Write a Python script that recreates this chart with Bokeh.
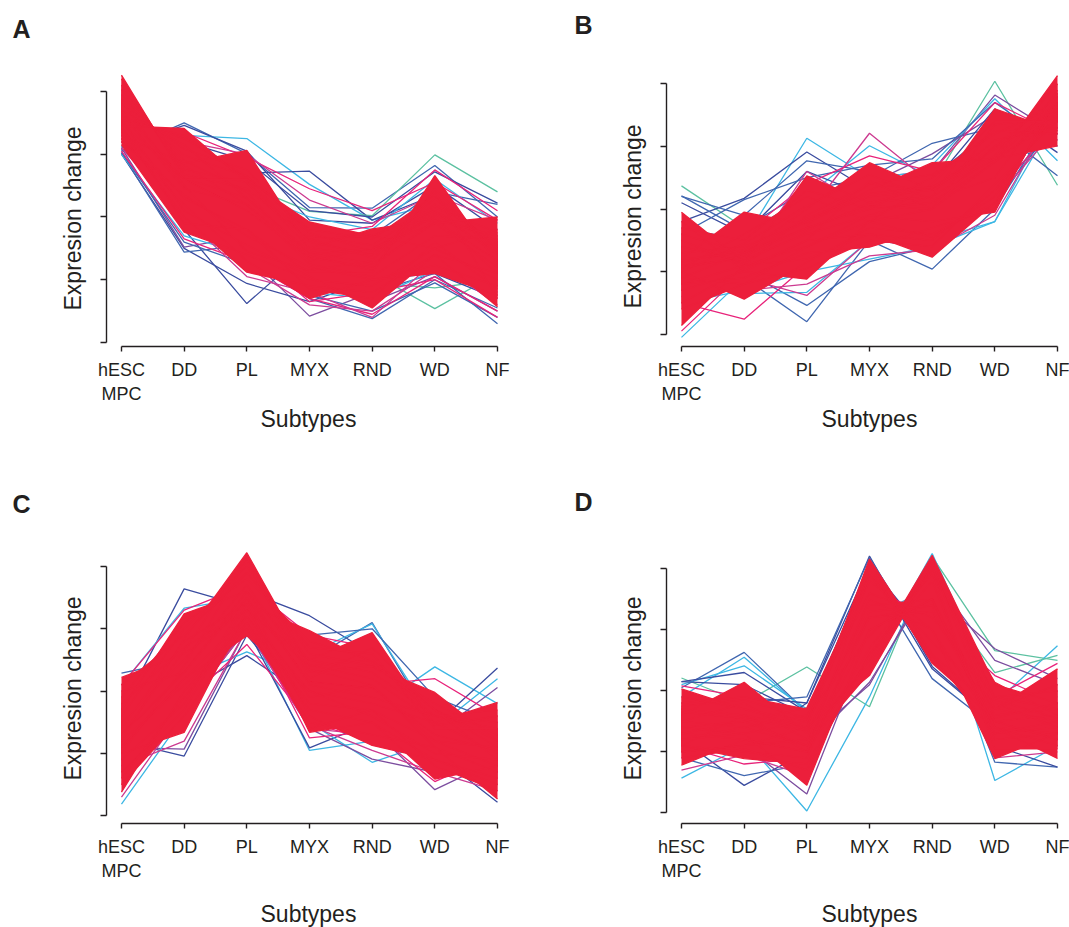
from bokeh.plotting import figure
from bokeh.models import FixedTicker, Range1d, Title, LinearAxis
from bokeh.layouts import column, row
from bokeh.embed import file_html
from bokeh.resources import INLINE

# ---------------- data ----------------
categories = ["hESC\nMPC", "DD", "PL", "MYX", "RND", "WD", "NF"]
xpos = [0, 1, 2, 3, 4, 5, 6]

# ---- Panel A ----
A_center = [1.70, 0.60, 0.10, -0.65, -0.80, -0.05, -0.70]
A_red = [
    [2.26, 0.62, 0.30, -0.55, -0.75, -0.10, -0.80],
    [2.20, 0.68, 0.45, -0.35, -0.65, 0.05, -0.55],
    [2.10, 0.75, 0.55, -0.40, -0.60, 0.10, -0.60],
    [2.03, 0.82, 0.20, -0.75, -0.95, -0.30, -0.35],
    [1.95, 0.90, 0.40, -0.70, -0.50, 0.00, -0.90],
    [1.88, 0.98, 0.65, -0.25, -0.55, 0.15, -0.25],
    [1.80, 1.08, 0.75, -0.30, -0.45, 0.20, -0.40],
    [1.70, 1.15, 0.30, -0.60, -0.85, 0.45, -0.55],
    [1.60, 1.25, 0.65, -0.20, -0.35, 0.35, -0.50],
    [1.55, 1.30, 0.60, -0.35, -0.30, 0.10, -0.45],
    [1.45, 1.41, 0.55, -0.50, -0.19, -0.05, -0.30],
    [1.30, 0.85, 1.06, -0.50, -0.60, 0.30, -0.55],
    [1.50, 0.60, 0.60, -0.08, -0.30, -0.50, -0.20],
    [1.40, 0.30, -0.20, -0.90, -0.90, 0.66, -0.75],
    [1.65, 0.45, 0.20, -0.60, -0.50, -0.10, 0.00],
    [1.15, -0.24, -0.60, -1.00, -1.10, -0.50, -1.00],
    [1.35, 0.00, -0.88, -1.10, -1.20, -0.60, -0.90],
    [1.25, 0.20, -0.70, -1.30, -1.00, -0.77, -1.10],
    [1.55, 0.10, -0.45, -0.95, -1.45, -0.60, -1.43],
    [1.20, 0.35, -0.30, -0.80, -1.00, -0.90, -1.25],
    [1.45, -0.10, -0.20, -1.15, -1.30, -0.40, -1.15],
    [1.85, 0.50, -0.55, -0.85, -0.70, 0.40, -1.30],
]
A_edge = [
    [1.05, -0.35, -0.72, -1.30, -1.55, -0.95, -1.50],
    [1.20, 0.10, -0.80, -1.40, -1.50, -0.85, -1.25],
    [1.35, 1.35, 0.95, 0.45, 0.10, 0.55, -0.05],
    [1.30, 1.20, 1.00, 0.27, -0.10, 0.35, -0.05],
    [1.25, 0.90, 0.40, -0.30, -0.15, 0.75, 0.10],
    [1.10, 0.00, -0.95, -1.20, -1.60, -0.70, -1.40],
    [1.60, 0.40, -0.50, -1.35, -1.20, -1.00, -1.60],
]
A_edge_colors = ["pink", "magenta", "pink", "magenta", "pink", "magenta", "pink"]
A_out = [
    [1.06, 1.50, 1.01, 0.15, 0.14, 0.82, 0.00],
    [1.15, 1.30, 1.25, 0.52, -0.05, 0.20, -0.30],
    [1.10, 1.25, 0.70, 0.73, -0.05, 0.35, -0.45],
    [1.20, 0.90, 0.50, 0.09, 0.02, 0.99, 0.40],
    [1.30, 0.10, -0.50, -0.90, -0.90, -1.46, -0.90],
    [1.40, 0.30, -0.60, -1.10, -1.05, -1.13, -1.00],
    [1.30, 0.00, -0.60, -1.58, -1.20, -0.70, -1.10],
    [1.25, -0.20, -1.38, -0.50, -0.90, -0.60, -1.20],
    [1.00, -0.50, -1.06, -1.35, -1.00, -0.90, -1.30],
    [1.20, 0.20, -0.70, -1.30, -1.62, -1.00, -1.45],
    [1.02, -0.56, -0.45, -1.10, -1.20, -0.90, -1.70],
    [1.10, -0.48, -0.30, -0.90, -1.35, -0.95, -1.50],
    [1.12, 1.46, 1.05, -0.05, -0.10, 0.50, -0.20],
    [1.05, 1.20, 0.90, 0.10, 0.00, 0.72, 0.22],
    [1.00, -0.30, -0.60, -1.20, -1.30, -0.85, -1.25],
    [1.08, 0.40, 0.00, -0.40, -0.30, 0.40, 0.20],
    [1.12, 0.95, 0.40, 0.00, -0.20, 0.60, -0.10],
    [1.03, -0.40, -0.75, -1.25, -1.50, -1.05, -1.60],
]
A_out_colors = ["blue", "cyan", "dblue", "teal", "teal", "teal", "purple", "dblue", "dblue",
                "blue", "blue", "purple", "dblue", "dblue", "cyan", "blue", "cyan", "blue"]

# ---- Panel B ----
B_center = [-0.95, -0.75, -0.30, 0.05, 0.00, 0.75, 1.55]
B_red = [
    [-0.05, -0.85, -0.35, 0.10, 0.20, 0.80, 1.40],
    [-0.80, -0.05, -0.25, 0.40, 0.30, 1.10, 1.30],
    [-0.60, -0.85, 0.53, 0.10, 0.35, 0.95, 1.60],
    [-0.40, -0.70, 0.00, 0.74, 0.30, 1.00, 1.50],
    [-0.70, -0.60, -0.20, 0.30, 0.74, 0.80, 1.70],
    [-0.90, -0.80, -0.40, -0.10, 0.20, 1.60, 1.25],
    [-1.10, -0.70, -0.30, 0.00, 0.10, 0.75, 2.13],
    [-0.50, -0.90, -0.10, 0.40, 0.55, 1.20, 1.65],
    [-0.20, -1.00, -0.50, 0.45, 0.00, 1.35, 1.45],
    [-0.95, -0.40, 0.20, -0.20, 0.40, 1.40, 1.40],
    [-1.00, -0.55, 0.05, 0.55, 0.15, 0.50, 1.90],
    [-0.85, -0.65, -0.15, 0.25, 0.35, 0.85, 2.00],
    [-1.20, -0.90, -0.60, -0.20, 0.00, 1.00, 1.80],
    [-1.86, -0.90, -0.80, -0.40, -0.50, 0.30, 1.50],
    [-1.00, -1.44, -0.85, -0.30, -0.40, 0.10, 1.70],
    [-1.30, -1.00, -1.12, -0.20, -0.45, 0.20, 1.60],
    [-1.20, -1.10, -0.70, -0.61, -0.30, 0.00, 1.80],
    [-1.50, -0.95, -0.50, -0.40, -0.77, 0.10, 1.70],
    [-1.10, -1.20, -0.60, -0.10, -0.20, -0.05, 1.85],
    [-0.80, -0.70, -0.20, 0.20, 0.30, 0.80, 1.01],
    [-1.60, -1.20, -0.95, -0.50, -0.60, 0.40, 1.40],
    [-0.30, -0.50, 0.30, 0.00, 0.50, 1.25, 1.20],
]
B_edge = [
    [-1.50, -1.76, -0.90, -0.50, -0.50, 0.20, 1.40],
    [-1.40, -1.10, -1.38, -0.50, -0.60, 0.15, 1.30],
    [-0.90, -0.50, -0.10, 1.21, 0.40, 0.90, 1.45],
    [-0.70, -0.40, 0.40, 0.85, 0.60, 1.70, 1.20],
    [-1.95, -1.00, -0.70, -0.30, -0.40, 0.50, 1.60],
    [-0.60, -0.90, 0.60, 0.00, 0.20, 1.40, 1.10],
    [-1.30, -1.30, -1.20, -0.75, -0.65, -0.10, 1.60],
]
B_edge_colors = ["pink", "magenta", "magenta", "pink", "pink", "magenta", "magenta"]
B_out = [
    [0.37, -0.30, -0.20, 0.10, 0.20, 0.80, 1.40],
    [-0.60, -0.70, -0.30, 0.30, 0.40, 2.04, 0.38],
    [-0.80, -0.50, -0.20, 0.50, 0.60, 1.82, 1.20],
    [-0.50, -0.60, 0.30, 0.20, 0.70, 1.76, 0.77],
    [-0.30, -0.50, 1.13, 0.50, 0.60, 0.90, 1.50],
    [-0.20, 0.17, 0.91, 0.30, 0.20, 1.00, 1.30],
    [0.20, -0.10, 0.77, 0.60, 0.40, 1.10, 1.20],
    [-0.70, -0.40, 0.20, 1.01, 0.50, 1.20, 1.40],
    [-0.60, -0.30, 0.30, 0.50, 1.05, 1.30, 1.25],
    [-0.40, -0.60, 0.20, 0.40, 0.88, 1.50, 1.10],
    [-1.00, -1.10, -1.80, -0.50, -0.60, 0.30, 1.30],
    [-1.20, -1.00, -1.54, -0.84, -0.60, 0.10, 1.40],
    [-1.30, -1.10, -0.80, -0.50, -0.96, 0.00, 1.60],
    [-1.50, -1.30, -1.00, -0.80, -0.60, -0.20, 1.70],
    [-1.20, -1.35, -1.33, -0.50, -0.50, -0.20, 1.50],
    [-2.05, -1.10, -0.90, -0.30, -0.40, 0.40, 1.50],
    [0.21, -0.35, 0.00, 0.30, 0.20, 1.10, 1.20],
    [-0.50, -0.60, -0.20, 0.30, 0.50, 1.30, 0.53],
    [0.10, -0.40, 0.60, 0.20, 0.40, 1.60, 0.90],
    [-0.40, 0.15, 0.50, 0.70, 0.80, 1.70, 1.00],
]
B_out_colors = ["teal", "teal", "purple", "cyan", "cyan", "dblue", "blue", "cyan", "blue", "purple",
                "blue", "blue", "blue", "cyan", "cyan", "cyan", "blue", "blue", "dblue", "blue"]

# ---- Panel C ----
C_center = [-0.70, 0.30, 1.50, 0.15, 0.05, -0.70, -0.95]
C_red = [
    [0.22, 0.60, 1.30, 0.40, 0.50, -0.30, -0.80],
    [-0.30, 1.24, 1.60, 0.50, 0.30, -0.40, -0.60],
    [-0.80, 0.84, 2.22, 0.42, 0.20, -0.50, -1.00],
    [-0.40, 1.00, 2.00, 0.60, 0.40, -0.20, -0.70],
    [-0.10, 1.10, 1.80, 0.80, 0.50, -0.40, -0.50],
    [-0.60, 0.80, 1.40, 0.97, 0.45, -0.30, -0.90],
    [-0.20, 0.70, 1.30, 0.50, 0.94, -0.55, -0.40],
    [-0.50, 0.50, 1.70, 0.30, 0.40, -0.02, -0.80],
    [-0.90, 0.20, 1.20, 0.00, -0.20, -0.50, -0.18],
    [0.10, 0.90, 1.90, 0.70, 0.60, -0.60, -0.60],
    [-1.00, 0.40, 2.10, 0.20, 0.70, -0.30, -1.10],
    [-0.70, 0.65, 2.15, 0.35, 0.10, -0.80, -0.90],
    [-1.62, 0.00, 1.10, -0.20, -0.30, -0.80, -1.20],
    [-1.00, -0.66, 1.30, -0.10, 0.10, -0.90, -1.30],
    [-0.90, 0.20, 0.89, 0.00, -0.40, -1.00, -1.10],
    [-1.30, -0.30, 1.40, -0.66, -0.50, -1.10, -1.40],
    [-1.10, -0.20, 1.50, -0.40, -0.87, -1.10, -1.50],
    [-1.40, -0.10, 1.20, -0.30, -0.50, -1.41, -1.20],
    [-0.80, 0.10, 1.00, -0.50, -0.70, -0.90, -1.73],
    [-1.50, -0.40, 1.10, -0.60, -0.30, -1.20, -1.60],
    [0.00, 0.30, 1.60, 0.10, -0.10, -0.40, -0.30],
]
C_edge = [
    [-0.50, 0.50, 1.40, 0.30, 0.10, 0.20, -0.40],
    [-1.20, -0.80, 1.00, -0.60, -0.70, -1.20, -1.40],
    [-0.60, -0.20, 0.75, -0.50, -0.80, -1.00, -1.30],
    [-1.70, -0.30, 1.00, -0.55, -0.95, -1.30, -1.60],
    [0.10, 1.30, 1.70, 0.90, 0.70, -0.30, -0.70],
    [-0.40, 0.40, 1.20, -0.75, -0.65, -1.45, -1.00],
]
C_edge_colors = ["pink", "magenta", "pink", "magenta", "pink", "pink"]
C_out = [
    [-0.30, 1.64, 1.35, 0.60, 0.50, -0.30, -0.80],
    [0.10, 1.33, 1.50, 0.50, 0.70, -0.40, -0.90],
    [-0.80, -1.04, 0.90, -0.30, -0.50, -1.00, -1.20],
    [-0.90, -0.93, 1.00, -0.20, -0.30, -1.10, -1.30],
    [-0.70, 0.00, 0.57, -0.10, -0.40, -0.90, -1.30],
    [-0.60, 0.20, 0.63, 0.20, -0.20, -0.80, -1.10],
    [-0.50, 0.60, 1.60, 1.21, 0.60, -0.50, -0.90],
    [-0.40, 0.50, 1.50, 0.50, 1.10, -0.60, -0.80],
    [0.00, 0.80, 1.70, 0.60, 1.08, -0.50, -0.90],
    [-1.00, 0.00, 1.10, -0.95, -0.80, -0.90, -1.20],
    [-1.20, -0.30, 1.00, -0.91, -0.50, -1.10, -1.50],
    [-1.00, 0.10, 1.20, -0.50, -1.14, -0.80, -1.30],
    [-1.10, -0.20, 1.00, -0.60, -1.09, -1.30, -1.00],
    [-0.80, 0.30, 1.30, -0.20, -0.30, 0.39, -0.20],
    [-1.00, 0.20, 1.20, -0.40, -0.60, -0.60, 0.20],
    [-1.10, 0.00, 1.10, -0.40, -0.50, -0.55, 0.37],
    [-0.90, 0.10, 1.20, -0.30, -0.40, -1.00, -1.78],
    [-1.81, -0.40, 1.10, -0.20, -0.30, -0.90, -1.20],
    [0.29, 0.50, 1.40, 0.30, 0.20, -0.60, -1.00],
    [-0.90, 0.30, 1.20, -0.10, -0.20, -0.70, 0.06],
    [-1.30, 0.00, 1.10, -0.30, -0.60, -1.58, -1.10],
    [-0.60, 0.40, 1.45, 0.90, 1.00, -0.10, -0.50],
]
C_out_colors = ["dblue", "cyan", "dblue", "purple", "dblue", "cyan", "dblue", "blue", "cyan", "cyan", "dblue",
                "cyan", "purple", "cyan", "cyan", "dblue", "dblue", "cyan", "blue", "purple", "purple", "blue"]

# ---- Panel D ----
D_center = [-0.60, -0.50, -0.90, 1.20, 1.30, -0.50, -0.40]
D_red = [
    [-0.30, -0.40, -0.60, 2.16, 0.60, -0.30, -0.50],
    [-0.50, -0.20, -0.80, 0.50, 2.22, 0.10, -0.20],
    [0.03, -0.30, -0.50, 1.80, 1.00, -0.60, -0.70],
    [-0.40, 0.14, -0.70, 1.40, 1.50, -0.40, -0.30],
    [-0.70, -0.50, -0.28, 1.90, 0.80, -0.20, -0.60],
    [-0.50, -0.60, -0.40, 0.90, 1.90, 0.14, -0.40],
    [-0.60, -0.70, -0.50, 1.20, 1.40, -0.30, 0.36],
    [-0.20, -0.10, -0.30, 1.60, 1.20, -0.10, 0.00],
    [-0.90, -0.40, -1.00, 0.70, 2.00, -0.10, -0.30],
    [-0.10, -0.30, -0.60, 2.00, 0.50, -0.50, -0.80],
    [-0.80, -0.60, -0.90, 0.30, 2.10, -0.30, 0.10],
    [-1.22, -0.80, -1.00, 1.00, 1.50, -0.70, -0.60],
    [-0.90, -1.11, -1.20, 0.60, 1.80, -0.80, -0.70],
    [-0.80, -0.70, -1.55, 1.00, 1.50, -0.60, -0.90],
    [-1.00, -0.90, -0.60, 0.25, 2.05, -0.50, -0.80],
    [-0.70, -0.80, -1.00, 1.90, 0.58, -0.70, -0.50],
    [-1.00, -0.90, -0.80, 1.50, 1.00, -1.11, -0.70],
    [-0.90, -1.00, -1.10, 1.30, 1.40, -0.60, -1.11],
    [-1.10, -0.95, -1.30, 0.60, 1.95, -0.95, -0.95],
    [-0.25, -0.15, -0.45, 2.10, 0.45, -0.45, -0.20],
    [-0.35, -0.45, -0.65, 0.40, 2.18, -0.15, -0.45],
]
D_edge = [
    [-1.00, -0.90, -1.69, 0.90, 1.50, -0.70, -0.80],
    [-0.90, -1.20, -1.10, 0.70, 1.70, -0.80, -0.90],
    [-0.90, -0.80, -0.90, 0.14, 1.80, -0.60, -0.70],
    [-0.50, -0.40, -0.60, 0.90, 1.60, 0.69, 0.20],
    [-0.40, -0.30, -0.40, 1.30, 1.40, -0.10, 0.45],
    [0.08, -0.10, -0.35, 1.70, 1.20, 0.25, -0.20],
    [-1.30, -1.05, -1.40, 0.80, 1.70, -1.10, -1.00],
]
D_edge_colors = ["purple", "pink", "purple", "purple", "pink", "pink", "magenta"]
D_out = [
    [0.21, -0.20, 0.39, -0.26, 2.20, 0.66, 0.50],
    [-0.90, -0.80, -1.97, -0.10, 2.15, -0.40, -0.60],
    [-0.80, -1.55, -1.00, 1.20, 1.50, -0.60, -0.70],
    [-1.10, -1.39, -1.20, 1.00, 1.60, -0.80, -0.90],
    [0.05, 0.63, -0.35, 1.60, 1.10, -0.30, -0.20],
    [-0.10, 0.55, -0.35, 1.40, 1.30, -0.50, -0.30],
    [0.10, 0.41, -0.30, 1.80, 0.90, -0.40, -0.50],
    [0.15, 0.30, -0.35, 2.00, 0.70, -0.20, 0.00],
    [-0.20, -0.10, -0.20, 2.21, 0.40, -0.50, -0.60],
    [-0.30, -0.20, -0.10, 2.18, 0.55, -0.40, -0.50],
    [-0.50, -0.40, -0.60, 1.90, 0.20, -0.60, -0.40],
    [-0.30, -0.50, -0.50, 2.10, 0.36, -0.50, -0.30],
    [-0.80, -0.70, -0.90, 0.90, 1.80, -1.47, -0.90],
    [-0.90, -0.80, -1.00, 1.20, 1.40, -1.17, -1.25],
    [-1.00, -0.80, -0.80, 1.10, 1.60, -0.90, -1.25],
    [-0.40, -0.30, -0.50, 1.20, 1.70, -0.20, 0.74],
    [-0.50, -0.40, -0.30, 1.00, 1.70, 0.30, 0.58],
    [-1.43, -0.90, -1.00, 1.00, 1.50, -0.60, -0.80],
    [0.15, 0.10, -0.40, 1.70, 1.10, -0.30, -0.20],
    [-0.60, -0.50, -0.70, 0.40, 2.25, 0.00, -0.10],
    [-0.70, -0.60, -0.80, 0.10, 1.90, 0.50, 0.10],
    [-0.70, -0.90, -0.20, 2.05, 0.80, -0.50, -0.60],
]
D_out_colors = ["teal", "cyan", "dblue", "blue", "blue", "cyan", "cyan", "dblue", "dblue", "blue", "blue",
                "dblue", "cyan", "blue", "dblue", "cyan", "teal", "cyan", "dblue", "cyan", "purple", "dblue"]

# ---------------- style ----------------
PALETTE = {
    "teal": "#5CC1A1", "cyan": "#3DB7E4", "blue": "#4067B0", "dblue": "#3A4C9F",
    "purple": "#7C4D9F", "magenta": "#CC3A90", "pink": "#E8237A", "red": "#EC1F3B",
}
INK = "#231F20"
FONT = "Liberation Sans"

# figure geometry: width, height, frame left/right/top/bottom (px), y range
GEOM = {
    "A": dict(W=560, H=470, L=106, R=498, T=65, B=346, y0=-2.064, y1=2.414),
    "B": dict(W=509, H=470, L=106, R=498, T=65, B=346, y0=-2.196, y1=2.292),
    "C": dict(W=560, H=457, L=106, R=498, T=75, B=353, y0=-2.122, y1=2.336),
    "D": dict(W=509, H=457, L=106, R=498, T=75, B=353, y0=-2.175, y1=2.382),
}
X0, X1 = -0.239, 6.016

# title placement (px): letter offset + gap above frame, y-title offset/standoff,
# x-title offset/standoff + gap below the tick labels
TPOS = {
    "A": dict(lo=-94, lgap=23, yo=36, ys=30, xo=154, xs=-5, xgap=0),
    "B": dict(lo=-92, lgap=27, yo=38, ys=30, xo=155, xs=-5, xgap=0),
    "C": dict(lo=-94, lgap=28, yo=43, ys=30, xo=154, xs=-5, xgap=18),
    "D": dict(lo=-92, lgap=30, yo=43, ys=30, xo=155, xs=-5, xgap=18),
}


def gap_axis(size):
    """Axis with one white, label-less tick on a white background: reserves space only."""
    return LinearAxis(ticker=FixedTicker(ticks=[0]), major_label_overrides={0: ""},
                      major_tick_out=size, major_tick_in=0, minor_tick_out=0, minor_tick_in=0,
                      major_label_standoff=0, major_label_text_font_size="1px",
                      axis_line_color=None, major_tick_line_color="white",
                      minor_tick_line_color=None)


def make_panel(key, center, red, edge, edge_colors, outl, outl_colors):
    g = GEOM[key]
    t = TPOS[key]
    p = figure(width=g["W"], height=g["H"], x_range=Range1d(X0, X1), y_range=Range1d(g["y0"], g["y1"]),
               output_backend="svg", toolbar_location=None, title=None,
               min_border_left=g["L"], min_border_right=g["W"] - g["R"],
               min_border_top=g["T"], min_border_bottom=g["H"] - g["B"])
    p.xgrid.visible = False
    p.ygrid.visible = False
    p.outline_line_color = None

    # x axis
    xa = p.xaxis[0]
    xa.ticker = FixedTicker(ticks=xpos)
    xa.major_label_overrides = {i: c for i, c in zip(xpos, categories)}
    xa.bounds = (0, 6)
    xa.major_tick_out = 5
    xa.major_tick_in = 0
    xa.minor_tick_out = 0
    xa.minor_tick_in = 0
    xa.axis_line_width = 1.4
    xa.major_tick_line_width = 1.4
    xa.axis_line_color = INK
    xa.major_tick_line_color = INK
    xa.major_label_text_font = FONT
    xa.major_label_text_font_size = "18px"
    xa.major_label_text_color = INK
    xa.major_label_standoff = 8

    # y axis (ticks only)
    ya = p.yaxis[0]
    ya.ticker = FixedTicker(ticks=[-2, -1, 0, 1, 2])
    ya.major_label_overrides = {-2: "", -1: "", 0: "", 1: "", 2: ""}
    ya.bounds = (-2, 2)
    ya.major_tick_out = 6
    ya.major_tick_in = 0
    ya.minor_tick_out = 0
    ya.minor_tick_in = 0
    ya.axis_line_width = 1.4
    ya.major_tick_line_width = 1.4
    ya.axis_line_color = INK
    ya.major_tick_line_color = INK

    # y-axis title
    p.add_layout(Title(text="Expresion change", align="left", offset=t["yo"], standoff=t["ys"],
                       text_font=FONT, text_font_size="23px", text_font_style="normal",
                       text_color=INK), "left")

    # panel letter (above the frame, lifted by a spacer)
    p.add_layout(gap_axis(t["lgap"]), "above")
    p.add_layout(Title(text=key, align="left", offset=t["lo"], standoff=0,
                       text_font=FONT, text_font_size="25px", text_font_style="bold",
                       text_color=INK), "above")

    # x-axis title
    if t["xgap"]:
        p.add_layout(gap_axis(t["xgap"]), "below")
    p.add_layout(Title(text="Subtypes", align="left", offset=t["xo"], standoff=t["xs"],
                       text_font=FONT, text_font_size="23px", text_font_style="normal",
                       text_color=INK), "below")

    # low-membership profiles first
    for vals, c in zip(outl, outl_colors):
        p.line(xpos, vals, line_color=PALETTE[c], line_width=1.3)
    for vals, c in zip(edge, edge_colors):
        p.line(xpos, vals, line_color=PALETTE[c], line_width=1.3)
    # high-membership (red) profiles: filled towards the cluster centre so the mass is solid
    for vals in red:
        p.varea(x=xpos, y1=vals, y2=center, fill_color=PALETTE["red"])
    for vals in red + [center]:
        p.line(xpos, vals, line_color=PALETTE["red"], line_width=1.3)
    return p


pA = make_panel("A", A_center, A_red, A_edge, A_edge_colors, A_out, A_out_colors)
pB = make_panel("B", B_center, B_red, B_edge, B_edge_colors, B_out, B_out_colors)
pC = make_panel("C", C_center, C_red, C_edge, C_edge_colors, C_out, C_out_colors)
pD = make_panel("D", D_center, D_red, D_edge, D_edge_colors, D_out, D_out_colors)

layout = column(row(pA, pB, spacing=0), row(pC, pD, spacing=0), spacing=0)
open("out.html", "w").write(file_html(layout, INLINE))
